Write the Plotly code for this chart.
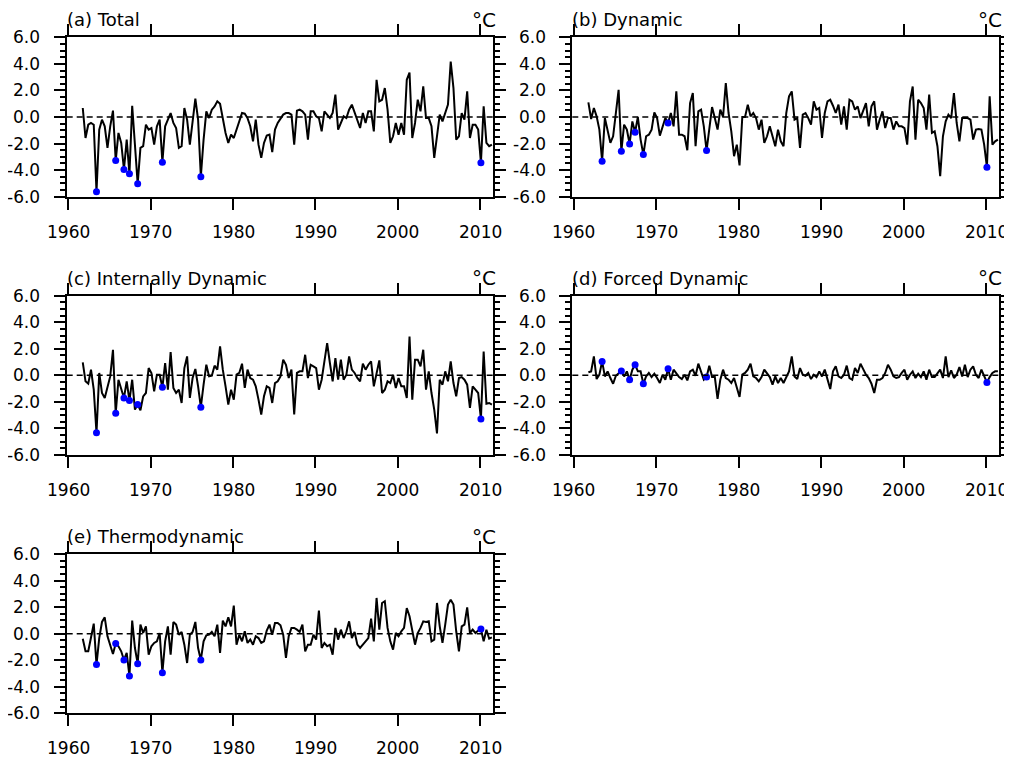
import plotly.graph_objects as go

# ---------------- data (DJF monthly anomalies, 150 months) ----------------
start_year = 1961.75
step = 1.0 / 3.0

total = [0.68,-1.58,-0.58,-0.45,-0.58,-5.63,-0.95,-0.2,-0.7,-2.33,
         -0.7,0.48,-3.28,-1.2,-1.95,-3.95,-1.7,-4.28,0.85,-2.33,
         -5.03,-2.33,-2.2,-0.58,-0.95,-0.83,-2.08,-0.7,-0.2,-3.4,
         -0.7,-0.2,0.3,-0.45,-0.83,-2.33,-2.2,0.68,-0.2,-2.08,
         -0.2,1.38,-0.2,-4.5,-1.7,0.43,-0.08,0.55,0.8,1.18,
         1.0,-0.2,-1.2,-1.95,-1.33,-1.58,-0.95,-0.45,0.3,0.25,
         -0.08,-0.7,-1.83,-0.2,-2.08,-3.08,-1.95,-1.4,-1.33,-2.65,
         -0.95,-0.45,-0.08,0.18,0.3,0.3,0.18,-2.08,0.48,0.55,
         0.43,0.18,-1.7,0.43,0.43,0.05,-0.08,-1.08,0.43,0.18,
         -0.08,0.3,1.68,-0.95,-0.45,0.05,-0.08,0.55,0.93,0.3,
         -0.2,-0.83,0.3,-0.45,0.43,0.43,-1.08,2.8,1.18,1.3,
         2.18,0.55,-1.95,-1.45,-0.45,-1.33,-0.45,-1.33,2.8,3.35,
         -1.58,-0.45,1.3,0.43,2.3,-0.08,-0.08,-0.7,-3.08,-1.2,
         0.18,-0.33,0.3,0.93,4.18,2.18,-1.7,-1.45,0.3,-0.2,
         1.93,-1.58,-0.58,-0.58,-0.95,-3.45,0.8,-1.95,-2.2,-2.08]

dynamic = [1.1,-0.15,0.68,0.05,-0.95,-3.33,-0.08,-0.95,-1.95,-1.45,
           0.3,2.05,-2.58,-0.58,-0.95,-2.03,-0.33,-1.15,0.0,-1.7,
           -2.83,-1.45,-1.33,-0.95,0.35,-0.08,-1.4,-0.7,-0.08,-0.45,
           0.3,-0.7,1.93,-1.33,-1.33,-1.45,-2.5,1.05,1.8,-2.2,
           0.43,0.55,-0.7,-2.53,-0.7,0.75,-0.08,-0.95,0.55,0.0,
           2.55,0.3,-1.08,-2.95,-2.08,-3.65,0.0,0.0,0.93,0.05,
           0.3,-0.08,-0.95,-0.2,-1.95,-1.45,-0.7,-1.45,-2.2,-0.95,
           -1.83,-2.2,0.3,1.55,1.93,-0.2,-0.08,-2.33,0.18,0.3,
           -0.08,-0.58,1.18,0.55,0.68,-1.58,0.3,1.18,1.3,0.85,
           0.3,0.93,-0.58,0.8,-0.95,1.3,1.18,0.55,0.8,-0.08,
           0.55,1.05,-0.7,0.8,1.18,-0.95,-0.2,0.43,-0.83,-0.08,
           -0.08,-0.95,-0.33,-0.7,-0.7,-0.83,-2.08,1.18,2.3,-1.7,
           1.3,1.05,0.68,-0.95,1.68,-1.2,-1.08,-2.2,-4.45,-1.45,
           -0.33,0.18,-0.08,1.8,-0.45,-1.83,-0.08,-0.08,-0.08,-0.2,
           -1.7,-0.95,-0.9,-0.95,-2.08,-3.78,1.55,-2.08,-1.83,-1.7]

internal = [0.98,-0.45,-0.63,0.43,-1.08,-4.33,0.18,-1.33,-1.7,-0.83,
            -0.08,1.93,-2.85,-0.33,-1.08,-1.7,-0.45,-1.9,-0.33,-2.58,
            -2.2,-2.63,-1.58,-1.33,0.55,0.18,-1.2,0.05,0.05,-0.9,
            0.93,-1.08,1.75,-0.95,-1.33,-1.08,-2.08,0.55,1.43,-1.7,
            -0.2,0.48,-0.83,-2.4,-0.7,0.8,-0.08,-0.03,0.73,0.43,
            2.18,0.43,-0.83,-2.2,-1.08,-1.83,0.05,0.18,0.88,-0.95,
            0.43,-0.2,-0.33,-0.83,-1.83,-2.95,-1.58,-0.83,-0.95,-2.08,
            -0.58,-0.45,-0.08,1.18,0.8,-0.2,0.43,-2.95,0.18,0.3,
            0.3,1.55,-0.2,0.8,0.68,0.55,-1.08,-0.33,1.05,2.43,
            0.93,-0.45,1.3,-0.33,1.18,-0.33,0.05,1.43,0.43,0.18,
            -0.2,-0.45,0.88,0.43,0.8,1.05,-0.83,0.3,1.13,-1.33,
            -1.08,-0.45,-0.58,0.05,-0.95,-0.2,-0.83,-0.83,-1.7,2.93,
            -1.83,1.18,1.18,0.68,1.93,-1.08,0.3,-1.33,-2.58,-4.38,
            -0.33,-0.7,0.3,-0.45,1.05,-0.58,-1.58,-0.2,-0.13,-0.33,
            -0.7,-2.45,-0.83,-1.08,-1.33,-3.28,1.8,-2.13,-2.08,-2.2]

forced = [0.23,0.3,1.43,-0.28,0.05,1.05,-0.08,0.3,-0.2,-0.63,
          -0.03,0.18,0.33,-0.08,0.3,-0.33,0.43,0.8,0.3,0.3,
          -0.63,-0.08,0.18,-0.13,0.13,-0.2,-0.58,0.05,-0.33,0.5,
          -0.33,0.43,0.18,-0.13,-0.28,0.05,-0.38,0.3,0.43,-0.03,
          0.88,0.18,-0.33,-0.13,0.73,-0.13,-0.13,-1.78,-0.33,0.43,
          -0.2,-0.33,-0.58,-0.2,-0.95,-1.63,0.05,0.18,0.43,0.88,
          -0.08,-0.2,-0.45,-0.13,0.43,0.18,-0.13,-0.7,-0.08,-0.58,
          -0.2,-0.58,-0.08,0.3,1.43,-0.08,-0.28,0.55,0.05,-0.03,
          0.18,-0.28,0.05,-0.13,0.3,-0.08,0.43,-0.33,-1.03,0.3,
          0.68,-0.08,-0.2,0.05,0.73,-0.2,-0.33,0.55,0.18,0.88,
          0.43,0.05,-0.2,-0.63,-1.33,-0.33,-0.33,-0.2,0.18,0.8,
          0.43,-0.08,-0.2,-0.13,0.18,0.43,-0.33,0.05,0.3,-0.2,
          0.13,-0.13,0.3,-0.33,0.43,-0.13,-0.13,0.18,0.43,-0.2,
          1.43,-0.13,0.38,-0.2,0.05,0.63,-0.08,0.8,-0.13,0.43,
          0.68,0.05,-0.2,0.43,-0.03,-0.53,-0.13,0.18,0.3,0.3]

thermo = [-0.38,-1.33,-1.33,-0.33,0.75,-2.33,-0.33,0.88,1.23,-0.2,
          -0.83,-1.53,-0.75,-0.95,-1.33,-1.98,-1.45,-3.19,0.98,-1.08,
          -2.26,0.68,0.05,0.55,-1.58,-0.95,-0.7,-0.58,0.05,-2.94,
          -0.58,0.55,-1.58,0.88,0.68,-0.08,0.13,-0.83,-2.21,-0.08,
          0.13,0.88,-1.08,-1.98,-0.58,-0.13,-0.08,0.13,-0.2,0.68,
          -1.45,0.98,0.55,1.23,0.55,2.11,-0.83,-0.08,-0.58,0.18,
          -0.7,-0.45,-0.83,-0.2,-0.33,-0.7,-0.58,0.23,0.68,-0.08,
          0.8,0.8,0.63,-0.08,-1.83,-0.2,0.43,0.43,0.3,0.13,
          0.68,-1.33,-0.83,-0.83,-0.08,-0.45,1.73,-1.08,-0.7,-0.95,
          -0.83,-1.58,0.43,-0.45,0.3,-0.33,0.18,0.93,-0.33,0.13,
          -0.83,-1.08,-0.83,-0.58,-0.33,1.13,-0.58,2.69,0.3,2.31,
          2.44,0.43,-0.58,-1.21,0.05,-0.2,0.18,0.43,1.93,1.31,
          0.18,-0.83,0.05,0.43,0.93,0.88,0.93,-0.58,-0.45,2.31,
          0.55,-0.7,0.68,2.19,2.56,2.19,0.18,-1.33,0.55,0.68,
          1.98,0.05,0.3,0.05,0.23,0.35,-0.58,0.3,-0.38,-0.28]

event_index = [5, 12, 15, 17, 20, 29, 43, 145]

titles = ["(a) Total", "(b) Dynamic", "(c) Internally Dynamic",
          "(d) Forced Dynamic", "(e) Thermodynamic"]
series = [total, dynamic, internal, forced, thermo]

year_ticks = [1960, 1970, 1980, 1990, 2000, 2010]
y_ticks = [-6, -4, -2, 0, 2, 4, 6]
y_ticktext = ["-6.0", "-4.0", "-2.0", "0.0", "2.0", "4.0", "6.0"]
unit_label = "°C"

# ---------------- layout geometry (reference pixel coordinates) ----------------
OFF = 8                     # the page body offsets the figure by 8px
W, H = 1012 - OFF, 762 - OFF
col_x = [(66.7, 493.0), (572.3, 999.0)]
row_y = [(37.3, 196.7), (295.7, 455.0), (554.0, 713.3)]
cells = [(0, 0), (0, 1), (1, 0), (1, 1), (2, 0)]


def fx(px):
    return (px - OFF) / W


def fy(py):
    return 1 - (py - OFF) / H


FONT = "DejaVu Sans"
TICKFONT = dict(family=FONT, size=17, color="black")

fig = go.Figure()
annotations = []
shapes = []

for k, (vals, title) in enumerate(zip(series, titles)):
    r, c = cells[k]
    n = k + 1
    xa = "x" if n == 1 else f"x{n}"
    ya = "y" if n == 1 else f"y{n}"
    xs = [start_year + i * step for i in range(len(vals))]
    fig.add_trace(go.Scatter(x=xs, y=vals, mode="lines",
                             line=dict(color="black", width=2),
                             xaxis=xa, yaxis=ya, showlegend=False,
                             hoverinfo="skip"))
    fig.add_trace(go.Scatter(x=[xs[i] for i in event_index],
                             y=[vals[i] for i in event_index],
                             mode="markers",
                             marker=dict(color="#0000ff", size=7),
                             xaxis=xa, yaxis=ya, showlegend=False,
                             hoverinfo="skip"))
    x0, x1 = col_x[c]
    y0, y1 = row_y[r]
    xkey = "xaxis" if n == 1 else f"xaxis{n}"
    ykey = "yaxis" if n == 1 else f"yaxis{n}"
    fig.layout[xkey] = dict(
        domain=[fx(x0), fx(x1)], anchor=ya, range=[1959.8, 2011.55],
        automargin=False, tickvals=year_ticks, showticklabels=False,
        ticks="outside", ticklen=11, tickwidth=2, tickcolor="black",
        showline=True, linewidth=2, linecolor="black", mirror="allticks",
        showgrid=False, zeroline=False,
    )
    fig.layout[ykey] = dict(
        domain=[fy(y1), fy(y0)], anchor=xa, range=[-6, 6], automargin=False,
        tickvals=y_ticks, showticklabels=False,
        ticks="outside", ticklen=11, tickwidth=2, tickcolor="black",
        minor=dict(ticks="outside", ticklen=5, tickwidth=1.5,
                   tickcolor="black", dtick=0.5, showgrid=False),
        showline=True, linewidth=2, linecolor="black", mirror="allticks",
        showgrid=False, zeroline=False,
    )
    shapes.append(dict(type="line", xref=f"{xa} domain", yref=ya,
                       x0=0, x1=1, y0=0, y1=0,
                       line=dict(color="black", width=1.5, dash="6px,4px")))
    # y tick labels
    for v, t in zip(y_ticks, y_ticktext):
        annotations.append(dict(text=t, xref="paper", yref=ya,
                                x=fx(x0 - 24.5), y=v, xanchor="right",
                                yanchor="middle", showarrow=False,
                                font=TICKFONT))
    # year labels
    for yr in year_ticks:
        annotations.append(dict(text=str(yr), xref=xa, yref="paper",
                                x=yr, y=fy(y1 + 35), xanchor="center",
                                yanchor="middle", showarrow=False,
                                font=TICKFONT))
    annotations.append(dict(text=title, xref="paper", yref="paper",
                            x=fx(x0), y=fy(y0 - 17.5),
                            xanchor="left", yanchor="middle", showarrow=False,
                            xshift=-2,
                            font=dict(family=FONT, size=18, color="black")))
    annotations.append(dict(text=unit_label, xref="paper", yref="paper",
                            x=fx(x1 - 9), y=fy(y0 - 17.5),
                            xanchor="center", yanchor="middle", showarrow=False,
                            font=dict(family=FONT, size=20, color="black")))

fig.update_layout(width=W, height=H, margin=dict(l=0, r=0, t=0, b=0),
                  paper_bgcolor="white", plot_bgcolor="white",
                  annotations=annotations, shapes=shapes)

fig.write_html("out.html")
